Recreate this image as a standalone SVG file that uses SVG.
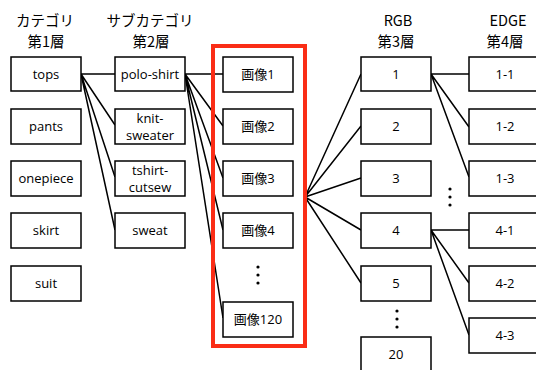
<svg xmlns="http://www.w3.org/2000/svg" width="536" height="370" viewBox="0 0 536 370">
<style>
.box{fill:#fff;stroke:#000;stroke-width:1.5}
.t{font-family:"Open Sans","Liberation Sans","Noto Sans CJK JP",sans-serif;font-size:13px;fill:#000;text-anchor:middle}
.h{font-family:"Noto Sans CJK JP","Open Sans",sans-serif;font-size:14.5px;fill:#000;text-anchor:middle}
.c{stroke:#000;stroke-width:1.5;fill:none}
.dot{fill:#000}
</style>
<rect width="536" height="370" fill="#fff"/>
<g id="headers">
<text class="h" x="45" y="26">カテゴリ</text>
<text class="h" x="46" y="47">第1層</text>
<text class="h" x="150" y="26">サブカテゴリ</text>
<text class="h" x="151" y="47">第2層</text>
<text class="h" x="398" y="26">RGB</text>
<text class="h" x="396" y="47">第3層</text>
<text class="h" x="508" y="26">EDGE</text>
<text class="h" x="505" y="47">第4層</text>
</g>
<g id="connectors">
<path class="c" d="M81 74L115 74M81 74L115 125M81 74L115 177M81 74L115 230"/>
<path class="c" d="M185 74L223 74M185 74L223 126M185 74L223 178M185 74L223 230M185 74L223 318"/>
<path class="c" d="M305 197L361 74M305 197L361 126M305 197L361 178M305 197L361 230M305 197L361 283"/>
<path class="c" d="M431 74L469 74M431 74L469 127M431 74L469 177"/>
<path class="c" d="M431 230L469 230M431 230L469 283M431 230L469 335"/>
</g>
<g id="tops"><rect class="box" x="11" y="57" width="70" height="34"/><text class="t" x="46" y="79">tops</text></g>
<g id="pants"><rect class="box" x="11" y="109" width="70" height="35"/><text class="t" x="46" y="131">pants</text></g>
<g id="onepiece"><rect class="box" x="11" y="161" width="70" height="35"/><text class="t" x="46" y="183">onepiece</text></g>
<g id="skirt"><rect class="box" x="11" y="213" width="70" height="35"/><text class="t" x="46" y="235">skirt</text></g>
<g id="suit"><rect class="box" x="11" y="266" width="70" height="35"/><text class="t" x="46" y="288">suit</text></g>
<g id="polo-shirt"><rect class="box" x="115" y="57" width="70" height="34"/><text class="t" x="150" y="79">polo-shirt</text></g>
<g id="knit-sweater"><rect class="box" x="115" y="109" width="70" height="35"/><text class="t" x="150" y="123">knit-</text><text class="t" x="150" y="140">sweater</text></g>
<g id="tshirt-cutsew"><rect class="box" x="115" y="161" width="70" height="35"/><text class="t" x="150" y="175">tshirt-</text><text class="t" x="150" y="192">cutsew</text></g>
<g id="sweat"><rect class="box" x="115" y="213" width="70" height="35"/><text class="t" x="150" y="235">sweat</text></g>
<g id="images">
<rect x="213" y="46" width="92" height="300" fill="none" stroke="#fa2d16" stroke-width="4"/>
<g id="img1"><rect class="box" x="223" y="57" width="70" height="35"/><text class="t" x="258" y="79">画像1</text></g>
<g id="img2"><rect class="box" x="223" y="109" width="70" height="35"/><text class="t" x="258" y="131">画像2</text></g>
<g id="img3"><rect class="box" x="223" y="161" width="70" height="35"/><text class="t" x="258" y="183">画像3</text></g>
<g id="img4"><rect class="box" x="223" y="213" width="70" height="35"/><text class="t" x="258" y="235">画像4</text></g>
<g id="imgdots"><circle class="dot" cx="258" cy="267" r="1.6"/><circle class="dot" cx="258" cy="275" r="1.6"/><circle class="dot" cx="258" cy="283" r="1.6"/></g>
<g id="img120"><rect class="box" x="223" y="302" width="70" height="35"/><text class="t" x="258" y="324">画像120</text></g>
</g>
<g id="rgb1"><rect class="box" x="361" y="57" width="70" height="34"/><text class="t" x="396" y="79">1</text></g>
<g id="rgb2"><rect class="box" x="361" y="109" width="70" height="35"/><text class="t" x="396" y="131">2</text></g>
<g id="rgb3"><rect class="box" x="361" y="161" width="70" height="35"/><text class="t" x="396" y="183">3</text></g>
<g id="rgb4"><rect class="box" x="361" y="213" width="70" height="35"/><text class="t" x="396" y="235">4</text></g>
<g id="rgb5"><rect class="box" x="361" y="266" width="70" height="35"/><text class="t" x="396" y="288">5</text></g>
<g id="rgbdots"><circle class="dot" cx="397" cy="311" r="1.6"/><circle class="dot" cx="397" cy="319" r="1.6"/><circle class="dot" cx="397" cy="327" r="1.6"/></g>
<g id="rgb20"><rect class="box" x="361" y="337" width="70" height="35"/><text class="t" x="396" y="359">20</text></g>
<g id="edgedots"><circle class="dot" cx="450" cy="189" r="1.6"/><circle class="dot" cx="450" cy="197" r="1.6"/><circle class="dot" cx="450" cy="205" r="1.6"/></g>
<g id="e1-1"><rect class="box" x="469" y="57" width="70" height="34"/><text class="t" x="505" y="79">1-1</text></g>
<g id="e1-2"><rect class="box" x="469" y="109" width="70" height="35"/><text class="t" x="505" y="131">1-2</text></g>
<g id="e1-3"><rect class="box" x="469" y="161" width="70" height="35"/><text class="t" x="505" y="183">1-3</text></g>
<g id="e4-1"><rect class="box" x="469" y="213" width="70" height="35"/><text class="t" x="505" y="235">4-1</text></g>
<g id="e4-2"><rect class="box" x="469" y="266" width="70" height="35"/><text class="t" x="505" y="288">4-2</text></g>
<g id="e4-3"><rect class="box" x="469" y="318" width="70" height="35"/><text class="t" x="505" y="340">4-3</text></g>
</svg>
